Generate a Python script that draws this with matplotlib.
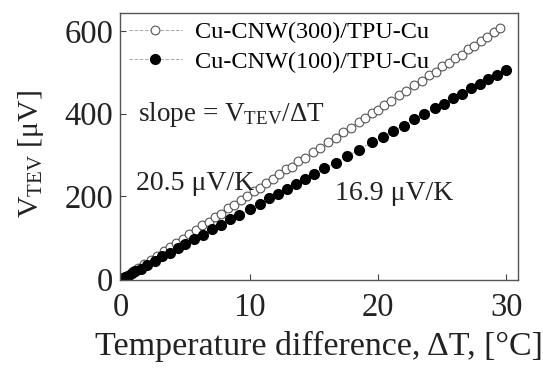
import matplotlib.pyplot as plt

plt.rcParams['font.family'] = ['Liberation Serif', 'DejaVu Serif']
plt.rcParams['mathtext.fontset'] = 'custom'
plt.rcParams['mathtext.rm'] = 'Liberation Serif'
plt.rcParams['mathtext.it'] = 'Liberation Serif:italic'

# Cu-CNW(300)/TPU-Cu (open circles)
dt_300 = [0, 0.2, 0.5, 0.9, 1.3, 1.8, 2.3, 2.8, 3.3, 3.8, 4.3, 4.8, 5.3, 5.8, 6.3,
          6.8, 7.3, 7.8, 8.3, 8.8, 9.3, 9.8, 10.3, 10.8, 11.3, 11.8, 12.3, 12.8,
          13.3, 13.8, 14.3, 14.9, 15.5, 16.1, 16.7, 17.3, 17.9, 18.5, 19.0, 19.5,
          20.0, 20.5, 21.0, 21.6, 22.2, 22.8, 23.4, 24.0, 24.5, 25.0, 25.5, 26.0,
          26.5, 27.0, 27.5, 28.0, 28.5, 29.0, 29.5]
v_300 = [0, 4, 10, 19, 27, 38, 47, 57, 68, 79, 88, 98, 110, 119, 131,
         139, 151, 158, 172, 180, 192, 200, 212, 221, 233, 241, 254, 266,
         272, 285, 292, 307, 316, 331, 341, 356, 366, 380, 389, 401,
         409, 421, 430, 444, 454, 468, 479, 493, 501, 514, 522, 534,
         542, 555, 563, 575, 584, 596, 607]

# Cu-CNW(100)/TPU-Cu (filled circles)
dt_100 = [0, 0.1, 0.3, 0.5, 0.8, 1.1, 1.5, 2.0, 2.6, 3.2, 3.8, 4.4, 5.0, 5.7, 6.4,
          7.1, 7.8, 8.5, 9.2, 10.0, 10.8, 11.5, 12.2, 12.9, 13.6, 14.3, 15.0,
          15.8, 16.7, 17.6, 18.5, 19.5, 20.4, 21.2, 22.0, 22.8, 23.6, 24.4,
          25.1, 25.8, 26.5, 27.2, 27.9, 28.6, 29.3, 30.0]
v_100 = [0, 2, 5, 8, 14, 19, 25, 34, 44, 55, 63, 75, 84, 97, 107,
         121, 131, 145, 154, 170, 182, 195, 205, 219, 229, 243, 253,
         268, 281, 298, 311, 331, 344, 359, 371, 386, 398, 413,
         423, 437, 447, 461, 471, 484, 494, 506]

fig = plt.figure(figsize=(5.43, 3.70), dpi=100)
ax = fig.add_axes([0.221, 0.243, 0.733, 0.722])

ax.plot(dt_300, v_300, ls='--', lw=0.7, color='#aaaaaa', marker='o', ms=6.3,
        mfc='white', mec='#555555', mew=0.8, label='Cu-CNW(300)/TPU-Cu')
ax.plot(dt_100, v_100, ls='--', lw=0.7, color='#aaaaaa', marker='o', ms=7,
        mfc='black', mec='black', label='Cu-CNW(100)/TPU-Cu')

ax.set_xlim(-0.1, 30.9)
ax.set_ylim(-2, 643)
ax.set_xticks([0, 10, 20, 30])
ax.set_yticks([0, 200, 400, 600])
ax.tick_params(direction='in', length=4, width=0.8, labelsize=23.5,
               color='#444444', labelcolor='#222222')
ax.tick_params(axis='x', pad=9)
ax.tick_params(axis='y', pad=5)
for s in ax.spines.values():
    s.set_color('#555555')
    s.set_linewidth(1.0)

ax.set_xlabel('Temperature difference, ΔT, [°C]', fontsize=24.5, color='#222222', labelpad=6)
ax.set_ylabel(r'V$_{\rm TEV}$ [μV]', fontsize=21.5, color='#222222')
ax.yaxis.set_label_coords(-0.185, 0.47)

ax.text(0.045, 0.618, r'slope = V$_{\rm TEV}$/ΔT', transform=ax.transAxes,
        fontsize=19.5, color='#222222', va='center')
ax.text(0.04, 0.363, '20.5 μV/K', transform=ax.transAxes, fontsize=20,
        color='#222222', va='center')
ax.text(0.54, 0.326, '16.9 μV/K', transform=ax.transAxes, fontsize=20,
        color='#222222', va='center')

ax.legend(loc='upper left', frameon=False, fontsize=17.5, handlelength=2.2,
          handletextpad=0.55, borderaxespad=0.0, labelspacing=0.3,
          borderpad=0.35, bbox_to_anchor=(0.0, 1.0))

fig.savefig('out.png', dpi=100)
